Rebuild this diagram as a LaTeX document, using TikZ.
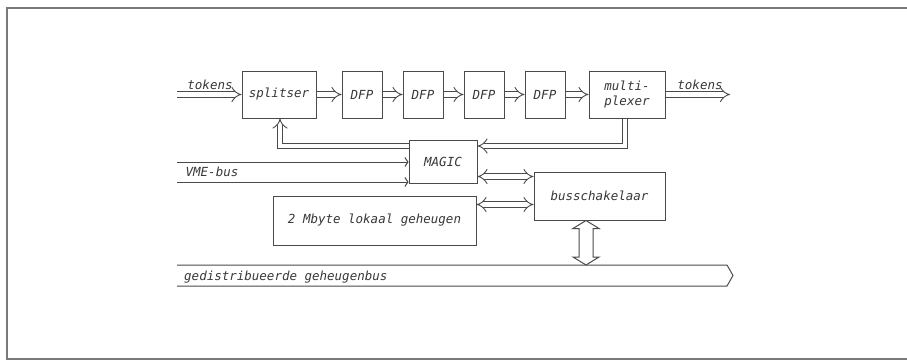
\documentclass[tikz,border=0pt]{standalone}
\usepackage{fontspec}
\newfontfamily\plotfam{DejaVu Sans Mono}
\usetikzlibrary{arrows.meta,calc}
\definecolor{ink}{HTML}{4A4A4A}
\definecolor{textink}{HTML}{383838}
\definecolor{framecol}{HTML}{7A7A7A}
\newcommand\pfont{\fontsize{12.5}{15}\selectfont\plotfam\itshape}
\begin{document}
\begin{tikzpicture}[x=1pt,y=-1pt,
  box/.style={draw=ink, line width=1pt, inner sep=0pt, font=\pfont, text=textink, fill=white},
  lbl/.style={inner sep=0pt, font=\pfont, text=textink},
  dbl/.style={draw=ink, line width=0.9pt, double=white, double distance=4.5pt, -{Implies}},
  thinl/.style={draw=ink, line width=1pt},
  framestyle/.style={draw=framecol, line width=1.8pt}
]
\useasboundingbox (0,0) rectangle (907,360);
\draw[framestyle] (907,8) -- (7,8) -- (7,359) -- (907,359);

% coordinates
\coordinate (inS) at (177,94.5);
\coordinate (outE) at (730,94.5);
\coordinate (fbR) at (625,146);
\coordinate (fbL) at (280,146);
\coordinate (mb) at (0,176.5);
\coordinate (mm) at (0,204.5);
\coordinate (vA) at (177,162);
\coordinate (vB) at (177,182);
\coordinate (gA) at (177,265);
\coordinate (gB) at (177,286);
\coordinate (gAe) at (727,265);
\coordinate (gBe) at (727,286);
\coordinate (gTip) at (733,275.5);
\coordinate (va) at (586,0);

% bus lines
\draw[thinl] (gA) -- (gAe) -- (gTip) -- (gBe) -- (gB);
\node[lbl, anchor=west] (gbl) at (184,277) {gedistribueerde geheugenbus};

% boxes
\node[box, minimum width=74pt, minimum height=47pt] (split) at (279,94.5) {splitser};
\node[box, minimum width=40pt, minimum height=47pt] (d1) at (362,94.5) {DFP};
\node[box, minimum width=40pt, minimum height=47pt] (d2) at (423,94.5) {DFP};
\node[box, minimum width=40pt, minimum height=47pt] (d3) at (484,94.5) {DFP};
\node[box, minimum width=40pt, minimum height=47pt] (d4) at (545,94.5) {DFP};
\node[box, minimum width=76pt, minimum height=47pt, align=left] (mux) at (627,94.5) {multi-\\plexer};
\node[box, minimum width=68pt, minimum height=43pt] (magic) at (443,161.5) {MAGIC};
\node[box, minimum width=131pt, minimum height=48pt] (bsk) at (599.5,196) {busschakelaar};
\node[box, minimum width=203pt, minimum height=49pt] (mem) at (374.5,220.5) {2 Mbyte lokaal geheugen};

% labels
\node[lbl] (tin) at (210,85) {tokens};
\node[lbl] (tout) at (700,85) {tokens};
\node[lbl] (vme) at (212,172) {VME-bus};

% token flow
\draw[dbl] (inS) -- (split.west);
\draw[dbl] (split.east) -- (d1.west);
\draw[dbl] (d1.east) -- (d2.west);
\draw[dbl] (d2.east) -- (d3.west);
\draw[dbl] (d3.east) -- (d4.west);
\draw[dbl] (d4.east) -- (mux.west);
\draw[dbl] (mux.east) -- (outE);

% feedback loops
\draw[dbl] (mux.south -| fbR) -- (fbR) -- (magic.east |- fbR);
\draw[dbl] (magic.west |- fbL) -- (fbL) -- (split.south -| fbL);

% busschakelaar links
\draw[dbl, {Implies}-{Implies}] (magic.east |- mb) -- (bsk.west |- mb);
\draw[dbl, {Implies}-{Implies}] (mem.east |- mm) -- (bsk.west |- mm);

% VME-bus
\draw[thinl, -{Straight Barb[length=3pt, width=9pt]}] (vA) -- (magic.west |- vA);
\draw[thinl, -{Straight Barb[length=3pt, width=9pt]}] (vB) -- (magic.west |- vB);

% hollow vertical double arrow
\coordinate (T) at (bsk.south -| va);
\coordinate (B) at (gA -| va);
\draw[thinl, fill=white] (T) -- ($(T)+(-13,8)$) -- ($(T)+(-7,8)$) -- ($(B)+(-7,-8)$)
  -- ($(B)+(-13,-8)$) -- (B) -- ($(B)+(13,-8)$) -- ($(B)+(7,-8)$)
  -- ($(T)+(7,8)$) -- ($(T)+(13,8)$) -- cycle;
\end{tikzpicture}
\end{document}
